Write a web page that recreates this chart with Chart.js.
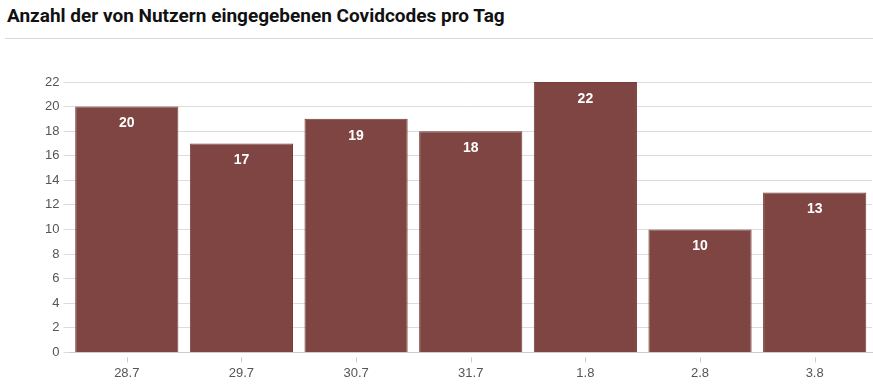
<!DOCTYPE html>
<html>
<head>
<meta charset="utf-8">
<script src="https://cdn.jsdelivr.net/npm/chart.js@4"></script>
<style>
  body { margin: 0; background: #fff; width: 873px; height: 384px; overflow: hidden; position: relative; }
  #titel { position: absolute; left: 7px; top: 4px; font: bold 19px Roboto, sans-serif; color: #111; }
  #linie { position: absolute; left: 5px; right: 0; top: 38px; border-top: 1px solid #d9d9d9; }
  #wrap { position: absolute; left: 0; top: 56px; width: 873px; height: 330px; }
</style>
</head>
<body>
<div id="titel">Anzahl der von Nutzern eingegebenen Covidcodes pro Tag</div>
<div id="linie"></div>
<div id="wrap"><canvas id="chart"></canvas></div>
<script>
// Tage und Anzahl der eingegebenen Codes
const tage = ['28.7', '29.7', '30.7', '31.7', '1.8', '2.8', '3.8'];
const anzahl = [20, 17, 19, 18, 22, 10, 13];

const barFarbe = 'rgb(127, 69, 66)';

// Werte in die Balken schreiben und kleine Striche unter der x-Achse
const balkenWerte = {
  id: 'balkenWerte',
  afterDatasetsDraw(chart) {
    const ctx = chart.ctx;
    const meta = chart.getDatasetMeta(0);
    ctx.save();
    ctx.fillStyle = '#fff';
    ctx.font = 'bold 14px "Liberation Sans", Arial, sans-serif';
    ctx.textAlign = 'center';
    ctx.textBaseline = 'middle';
    meta.data.forEach((bar, i) => {
      ctx.fillText(String(anzahl[i]), bar.x, bar.y + 17);
    });
    const x = chart.scales.x;
    const unten = chart.chartArea.bottom;
    ctx.strokeStyle = '#ccc';
    ctx.lineWidth = 1;
    tage.forEach((t, i) => {
      const px = Math.round(x.getPixelForValue(i)) + 0.5;
      ctx.beginPath();
      ctx.moveTo(px, unten + 5);
      ctx.lineTo(px, unten + 10);
      ctx.stroke();
    });
    ctx.restore();
  }
};

new Chart(document.getElementById('chart'), {
  type: 'bar',
  data: {
    labels: tage,
    datasets: [{
      data: anzahl,
      backgroundColor: barFarbe,
      borderColor: 'rgb(118, 60, 58)',
      borderWidth: 1,
      categoryPercentage: 1,
      barPercentage: 0.9
    }]
  },
  options: {
    responsive: true,
    maintainAspectRatio: false,
    animation: false,
    layout: { padding: { top: 26, right: 1, left: 41, bottom: 0 } },
    plugins: {
      legend: { display: false },
      tooltip: { enabled: false }
    },
    scales: {
      x: {
        grid: { display: false },
        border: { display: true, color: '#ccc' },
        ticks: {
          color: '#555',
          padding: 5,
          font: { family: '"Liberation Sans", Arial, sans-serif', size: 13 }
        }
      },
      y: {
        min: 0,
        max: 22,
        grid: { color: '#dcdcdc', tickLength: 6 },
        border: { display: false },
        ticks: {
          stepSize: 2,
          color: '#555',
          padding: 4,
          font: { family: '"Liberation Sans", Arial, sans-serif', size: 13 }
        }
      }
    }
  },
  plugins: [balkenWerte]
});
</script>
</body>
</html>
